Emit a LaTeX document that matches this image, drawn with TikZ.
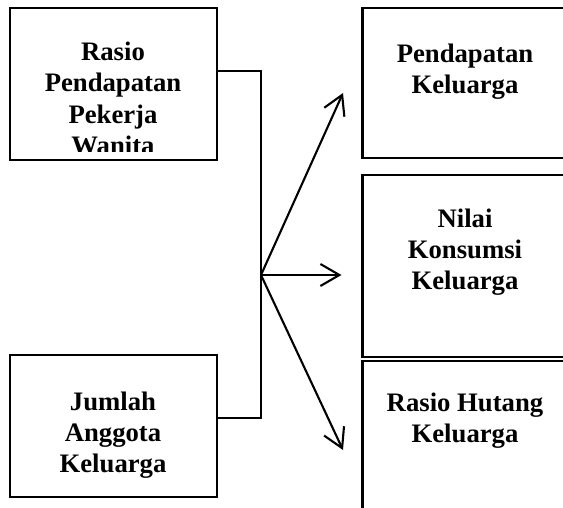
\documentclass[tikz,border=0pt]{standalone}
\usepackage{fontspec}
\setmainfont{Liberation Serif}
\usetikzlibrary{arrows.meta}
\begin{document}
\begin{tikzpicture}[x=1pt,y=-1pt,
  box/.style={draw,line width=2.3pt,rectangle,inner sep=0pt,minimum width=207pt},
  lbl/.style={font=\fontsize{26.7}{31}\selectfont\bfseries,align=center,inner sep=0pt,anchor=north},
  conn/.style={line width=1.8pt},
  arr/.style={line width=2.1pt,-{Straight Barb[length=19pt,width=22pt]}}]
\useasboundingbox (0,0) rectangle (563,508);
\clip (0,0) rectangle (563,508);
\fill[white] (0,0) rectangle (563,508);
% left boxes
\node[box,minimum height=152pt] (b1) at (113.5,84) {};
\node[box,minimum height=142pt] (b2) at (113.5,426) {};
% right boxes
\node[box,minimum height=150pt] (bA) at (466,83) {};
\node[box,minimum height=182pt] (bB) at (466,266) {};
\node[box,minimum height=179pt] (bC) at (466,450.5) {};
% labels
\begin{scope}
  \clip (11,10) rectangle (216,152);
  \node[lbl,font=\fontsize{26.7}{31.5}\selectfont\bfseries] (t1) at (113,41.5) {Rasio\\Pendapatan\\Pekerja\\Wanita};
\end{scope}
\node[lbl] (t2) at (113,392) {Jumlah\\Anggota\\Keluarga};
\node[lbl] (tA) at (465,43.5) {Pendapatan\\Keluarga};
\node[lbl] (tB) at (465,209) {Nilai\\Konsumsi\\Keluarga};
\node[lbl] (tC) at (465,393) {Rasio Hutang\\Keluarga};
% connectors
\coordinate (c1) at (217,71);
\coordinate (c2) at (217,418);
\coordinate (j) at (261,275);
\draw[conn] (c1) -| (j) |- (c2);
\coordinate (eA) at (343,93);
\coordinate (eB) at (341.5,275);
\coordinate (eC) at (343,450);
\draw[arr] (j) -- (eA);
\draw[arr] (j) -- (eB);
\draw[arr] (j) -- (eC);
\end{tikzpicture}
\end{document}
